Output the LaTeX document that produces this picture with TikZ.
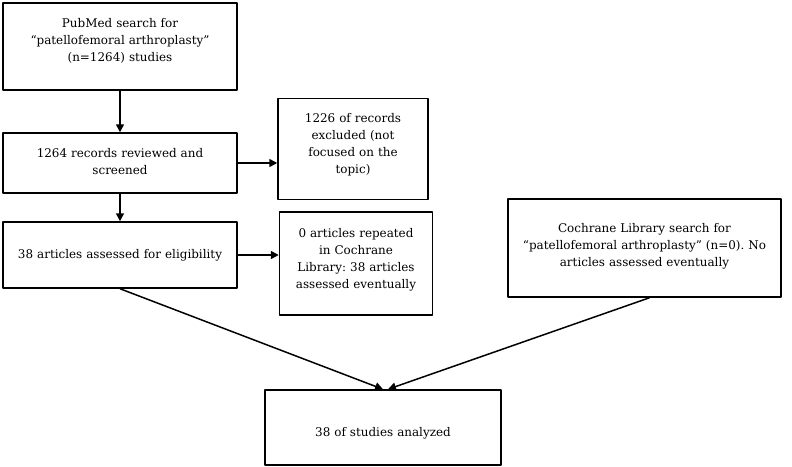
\documentclass[tikz,border=0pt]{standalone}
\usepackage{fontspec}
\setmainfont{DejaVu Serif}
\frenchspacing
\usetikzlibrary{arrows.meta}
\tikzset{
  every picture/.style={line join=round, >=Triangle},
  box/.style={draw, line width=1.5pt, align=center, inner sep=3pt, font=\fontsize{12}{17}\selectfont},
  lift/.style={execute at end node={\par\vspace{#1}}},
  sink/.style={execute at begin node={\rule{0pt}{#1}}},
  link/.style={->, line width=1.5pt, >={Triangle[length=8pt,width=8pt]}},
}
\begin{document}
\begin{tikzpicture}[x=1bp,y=-1bp]
\useasboundingbox (0,0) rectangle (792,467);
\node[box, minimum width=234bp, minimum height=87bp, text width=226bp, lift=11pt] (pubmed) at (120,46.5) {PubMed search for\\ “patellofemoral arthroplasty”\\ (n=1264) studies};
\node[box, minimum width=234bp, minimum height=60bp, text width=226bp, lift=3pt] (screen) at (120,163) {1264 records reviewed and\\ screened};
\node[box, minimum width=234bp, minimum height=66bp, text width=226bp] (assess) at (120,255) {38 articles assessed for eligibility};
\node[box, minimum width=150bp, minimum height=101bp, text width=142bp, lift=8pt] (excluded) at (353,149) {1226 of records\\ excluded (not\\ focused on the\\ topic)};
\node[box, minimum width=153bp, minimum height=103bp, text width=145bp, lift=8pt] (repeated) at (356,263.5) {0 articles repeated\\ in Cochrane\\ Library: 38 articles\\ assessed eventually};
\node[box, minimum width=273bp, minimum height=98bp, text width=265bp, lift=4pt] (cochrane) at (644.5,248) {Cochrane Library search for\\ “patellofemoral arthroplasty” (n=0). No\\ articles assessed eventually};
\node[box, minimum width=236bp, minimum height=75bp, text width=228bp, sink=21pt] (final) at (383,427.5) {38 of studies analyzed};
\draw[link] (pubmed.south) -- (screen.north);
\draw[link] (screen.south) -- (assess.north);
\draw[link] (screen.east) -- (screen.east -| excluded.west);
\draw[link] (assess.east) -- (assess.east -| repeated.west);
\draw[link] (assess.south) -- (final.north);
\draw[link] ([xshift=5bp]cochrane.south) -- ([xshift=5bp]final.north);
\end{tikzpicture}
\end{document}
